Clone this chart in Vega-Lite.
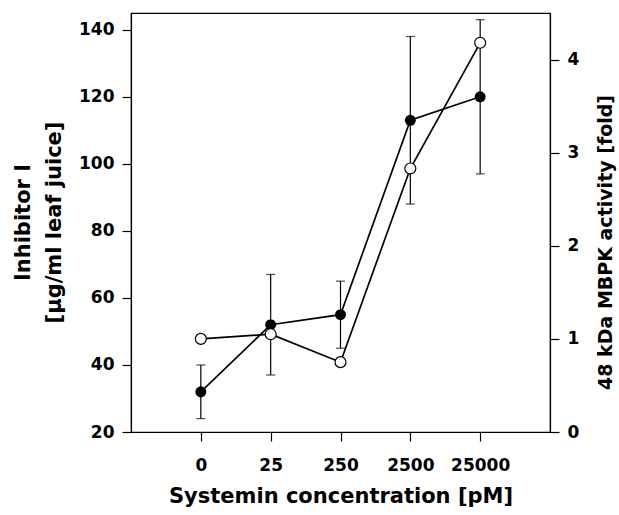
{
  "$schema": "https://vega.github.io/schema/vega-lite/v6.json",
  "width": 419,
  "height": 419,
  "autosize": "none",
  "padding": {"left": 131, "top": 13, "right": 69, "bottom": 83},
  "background": "white",
  "config": {
    "view": {"stroke": "black", "strokeWidth": 1.2},
    "axis": {
      "grid": false,
      "domainColor": "black",
      "domainWidth": 1.2,
      "tickColor": "black",
      "tickWidth": 1.2,
      "tickSize": 9,
      "labelFont": "DejaVu Sans",
      "labelFontWeight": "bold",
      "labelFontSize": 17,
      "labelColor": "black",
      "labelPadding": 8,
      "titleFont": "DejaVu Sans",
      "titleFontWeight": "bold",
      "titleFontSize": 21,
      "titleColor": "black"
    }
  },
  "data": {
    "values": [
      {"pos": 1, "conc": "0", "inhib": 32, "lo": 24, "hi": 40, "mbpk": 1.0},
      {"pos": 2, "conc": "25", "inhib": 52, "lo": 37, "hi": 67, "mbpk": 1.05},
      {"pos": 3, "conc": "250", "inhib": 55, "lo": 45, "hi": 65, "mbpk": 0.75},
      {"pos": 4, "conc": "2500", "inhib": 113, "lo": 88, "hi": 138, "mbpk": 2.83},
      {"pos": 5, "conc": "25000", "inhib": 120, "lo": 97, "hi": 143, "mbpk": 4.18}
    ]
  },
  "encoding": {
    "x": {
      "field": "pos",
      "type": "quantitative",
      "scale": {"domain": [0, 6], "nice": false, "zero": false},
      "axis": {
        "values": [1, 2, 3, 4, 5],
        "labelExpr": "['0','25','250','2500','25000'][datum.value - 1]",
        "title": "Systemin concentration [pM]",
        "titlePadding": 12,
        "labelPadding": 16
      }
    }
  },
  "layer": [
    {
      "encoding": {
        "y": {
          "field": "inhib",
          "type": "quantitative",
          "scale": {"domain": [20, 145], "nice": false, "zero": false},
          "axis": {
            "orient": "left",
            "values": [20, 40, 60, 80, 100, 120, 140],
            "title": ["Inhibitor I", "[μg/ml leaf juice]"],
            "titleLineHeight": 31,
            "titleAngle": -90,
            "titleBaseline": "bottom",
            "titleAlign": "center",
            "titleX": -98,
            "titleY": 209
          }
        }
      },
      "layer": [
        {
          "mark": {"type": "rule", "color": "black", "strokeWidth": 1.2},
          "encoding": {"y": {"field": "lo", "type": "quantitative"}, "y2": {"field": "hi"}}
        },
        {
          "mark": {"type": "tick", "orient": "horizontal", "color": "black", "size": 9, "thickness": 1.2},
          "encoding": {"y": {"field": "lo", "type": "quantitative"}}
        },
        {
          "mark": {"type": "tick", "orient": "horizontal", "color": "black", "size": 9, "thickness": 1.2},
          "encoding": {"y": {"field": "hi", "type": "quantitative"}}
        },
        {
          "mark": {"type": "line", "color": "black", "strokeWidth": 1.7}
        },
        {
          "mark": {"type": "point", "shape": "circle", "filled": true, "color": "black", "size": 120, "opacity": 1}
        }
      ]
    },
    {
      "encoding": {
        "y": {
          "field": "mbpk",
          "type": "quantitative",
          "scale": {"domain": [0, 4.5], "nice": false, "zero": false},
          "axis": {
            "orient": "right",
            "values": [0, 1, 2, 3, 4],
            "title": "48 kDa MBPK activity [fold]",
            "titleFontSize": 19,
            "titleAngle": -90,
            "titleBaseline": "top",
            "titleAlign": "center",
            "titleX": 46,
            "titleY": 229
          }
        }
      },
      "layer": [
        {
          "mark": {"type": "line", "color": "black", "strokeWidth": 1.7}
        },
        {
          "mark": {"type": "point", "shape": "circle", "filled": true, "fill": "white", "stroke": "black", "strokeWidth": 1.2, "size": 120, "opacity": 1}
        }
      ]
    }
  ],
  "resolve": {"scale": {"y": "independent"}}
}
